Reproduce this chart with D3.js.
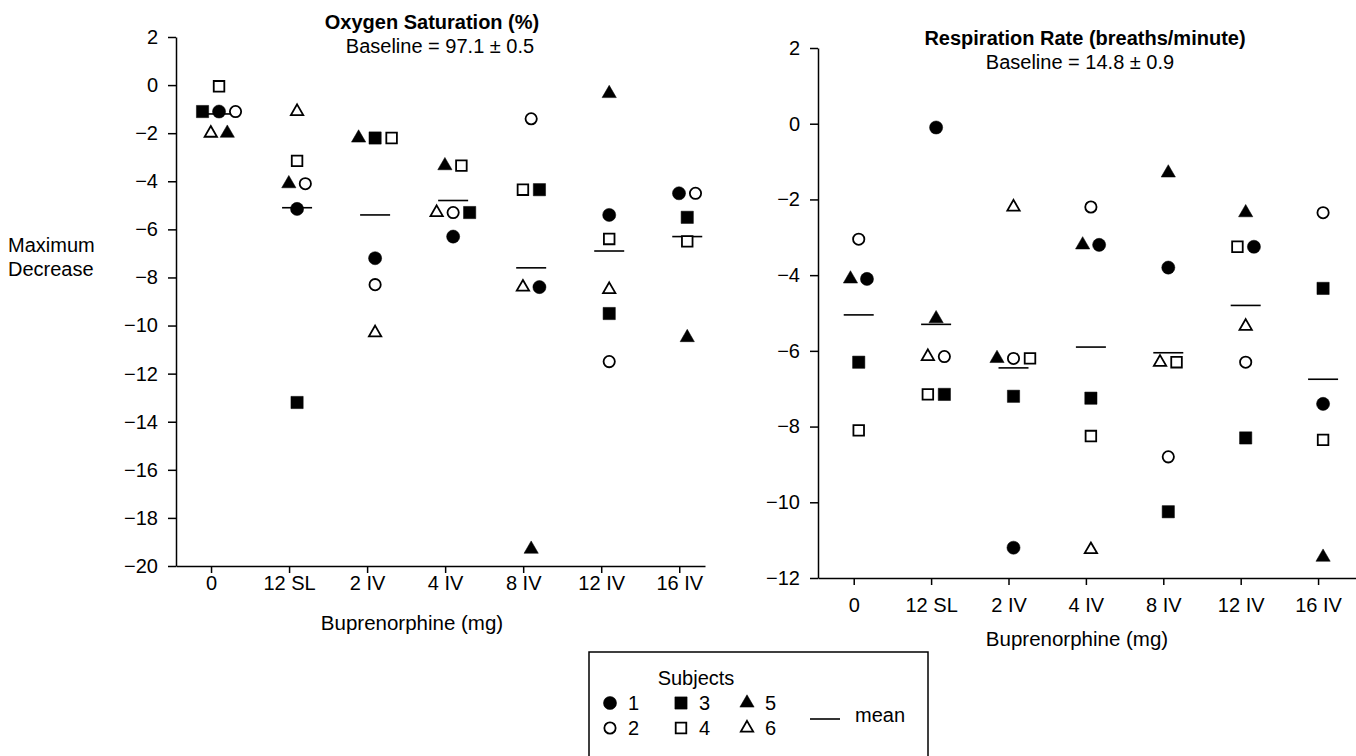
<!DOCTYPE html>
<html>
<head>
<meta charset="utf-8">
<script src="https://cdnjs.cloudflare.com/ajax/libs/d3/7.8.5/d3.min.js"></script>
<style>
  body { margin: 0; background: #fff; }
  svg text { font-family: "Liberation Sans", Arial, Helvetica, sans-serif; fill: #000; }
  .axis path, .axis line { stroke: #000; stroke-width: 1.5; }
  .axis text { font-size: 20px; }
</style>
</head>
<body>
<script>
// Doses on the x axis
var doses = ["0", "12 SL", "2 IV", "4 IV", "8 IV", "12 IV", "16 IV"];
var subjects = [1, 2, 3, 4, 5, 6];

// Oxygen saturation (%), maximum decrease per subject, one value per dose
var oxyS1 = [-1.1, -5.15, -7.2, -6.3, -8.4, -5.4, -4.5];
var oxyS2 = [-1.1, -4.1, -8.3, -5.3, -1.4, -11.5, -4.5];
var oxyS3 = [-1.1, -13.2, -2.2, -5.3, -4.35, -9.5, -5.5];
var oxyS4 = [-0.05, -3.15, -2.2, -3.35, -4.35, -6.4, -6.5];
var oxyS5 = [-2.0, -4.1, -2.2, -3.35, -19.3, -0.35, -10.5];
var oxyS6 = [-2.0, -1.1, -10.3, -5.3, -8.4, -8.5, null];
var oxyMean = [-1.2, -5.1, -5.4, -4.8, -7.6, -6.9, -6.3];
var oxyTicks = [2, 0, -2, -4, -6, -8, -10, -12, -14, -16, -18, -20];

// Respiration rate (breaths/minute), maximum decrease per subject
var respS1 = [-4.1, -0.1, -11.2, -3.2, -3.8, -3.25, -7.4];
var respS2 = [-3.05, -6.15, -6.2, -2.2, -8.8, -6.3, -2.35];
var respS3 = [-6.3, -7.15, -7.2, -7.25, -10.25, -8.3, -4.35];
var respS4 = [-8.1, -7.15, -6.2, -8.25, -6.3, -3.25, -8.35];
var respS5 = [-4.1, -5.15, -6.2, -3.2, -1.3, -2.35, -11.45];
var respS6 = [null, -6.15, -2.2, -11.25, -6.3, -5.35, null];
var respMean = [-5.05, -5.3, -6.45, -5.9, -6.05, -4.8, -6.75];
var respTicks = [2, 0, -2, -4, -6, -8, -10, -12];

// left-to-right order of subjects when markers sit side by side
var oxyOrder = [[3, 1, 2, 6, 5, 4], [5, 2, 1, 3, 4, 6], [5, 3, 4, 1, 2, 6], [5, 4, 6, 2, 3, 1],
                [4, 3, 6, 1, 2, 5], [1, 2, 3, 4, 5, 6], [1, 2, 3, 4, 5, 6]];
var respOrder = [[5, 1, 2, 3, 4, 6], [6, 2, 4, 3, 1, 5], [5, 2, 4, 1, 3, 6], [5, 1, 2, 3, 4, 6],
                 [6, 4, 1, 2, 3, 5], [4, 1, 2, 3, 5, 6], [1, 2, 3, 4, 5, 6]];

var svg = d3.select("body").append("svg")
    .attr("width", 1356)
    .attr("height", 756);

// Marker styles for each subject
var shapeOf = { 1: d3.symbolCircle, 2: d3.symbolCircle, 3: d3.symbolSquare,
                4: d3.symbolSquare, 5: d3.symbolTriangle, 6: d3.symbolTriangle };
var filledOf = { 1: true, 2: false, 3: true, 4: false, 5: true, 6: false };

function symbolPath(s) {
    var shape = shapeOf[s], size;
    if (shape === d3.symbolCircle) size = filledOf[s] ? 135 : 100;
    else if (shape === d3.symbolSquare) size = filledOf[s] ? 150 : 112;
    else size = filledOf[s] ? 88 : 66;
    return d3.symbol().type(shape).size(size)();
}

function drawMarker(g, s, cx, cy) {
    g.append("path")
        .attr("d", symbolPath(s))
        .attr("transform", "translate(" + cx + "," + cy + ")")
        .attr("fill", filledOf[s] ? "#000" : "#fff")
        .attr("stroke", "#000")
        .attr("stroke-width", filledOf[s] ? 0.5 : 1.8);
}

// Put markers with (nearly) the same value next to each other
function dodge(points, y, order) {
    var sorted = points.slice().sort(function(a, b) { return y(a.v) - y(b.v); });
    var clusters = [];
    sorted.forEach(function(p) {
        var last = clusters[clusters.length - 1];
        if (last && Math.abs(y(p.v) - y(last[last.length - 1].v)) < 8) last.push(p);
        else clusters.push([p]);
    });
    clusters.forEach(function(c) {
        c.sort(function(a, b) { return order.indexOf(a.s) - order.indexOf(b.s); });
        c.forEach(function(p, k) { p.dx = (k - (c.length - 1) / 2) * 16.5; });
    });
    return points;
}

function drawPanel(p) {
    var x = d3.scaleLinear().domain(p.xDomain).range(p.xRange);
    var y = d3.scaleLinear().domain(p.yDomain).range(p.yRange);
    var g = svg.append("g");

    g.append("g")
        .attr("class", "axis")
        .attr("transform", "translate(0," + p.yRange[0] + ")")
        .call(d3.axisBottom(x)
            .tickValues(d3.range(doses.length))
            .tickFormat(function(i) { return doses[i]; })
            .tickSize(7).tickSizeOuter(0).tickPadding(p.xPad));

    g.append("g")
        .attr("class", "axis")
        .attr("transform", "translate(" + p.xRange[0] + ",0)")
        .call(d3.axisLeft(y).tickValues(p.yTicks).tickSize(8).tickSizeOuter(0).tickPadding(10));

    g.selectAll(".axis .domain").attr("fill", "none");

    // titles
    g.append("text")
        .attr("x", p.titleX).attr("y", p.titleY)
        .attr("text-anchor", "middle")
        .style("font-size", "20px").style("font-weight", "bold")
        .text(p.title);
    g.append("text")
        .attr("x", p.baseX).attr("y", p.titleY + 24)
        .attr("text-anchor", "middle")
        .style("font-size", "20px")
        .text(p.baseline);
    g.append("text")
        .attr("x", p.labelX).attr("y", p.labelY)
        .attr("text-anchor", "middle")
        .style("font-size", "20.5px")
        .text("Buprenorphine (mg)");

    // mean lines
    g.selectAll(".mean")
        .data(p.means)
        .enter().append("line")
        .attr("class", "mean")
        .attr("x1", function(d, i) { return x(i) + p.shift - 15; })
        .attr("x2", function(d, i) { return x(i) + p.shift + 15; })
        .attr("y1", function(d) { return y(d); })
        .attr("y2", function(d) { return y(d); })
        .attr("stroke", "#000")
        .attr("stroke-width", 1.6);

    // subject markers
    doses.forEach(function(dose, i) {
        var pts = [];
        subjects.forEach(function(s, k) {
            var v = p.series[k][i];
            if (v !== null) pts.push({ s: s, v: v });
        });
        dodge(pts, y, p.order[i]).forEach(function(d) {
            drawMarker(g, d.s, x(i) + p.shift + d.dx, y(d.v));
        });
    });
}

drawPanel({
    series: [oxyS1, oxyS2, oxyS3, oxyS4, oxyS5, oxyS6],
    means: oxyMean, order: oxyOrder, yTicks: oxyTicks,
    xDomain: [-0.449, 6.33], xRange: [176, 705],
    yDomain: [-20, 2], yRange: [566, 37],
    xPad: 3, shift: 8,
    title: "Oxygen Saturation (%)", titleX: 432, titleY: 29,
    baseline: "Baseline = 97.1 \u00b1 0.5", baseX: 440,
    labelX: 412, labelY: 630
});

drawPanel({
    series: [respS1, respS2, respS3, respS4, respS5, respS6],
    means: respMean, order: respOrder, yTicks: respTicks,
    xDomain: [-0.4615, 6.49], xRange: [818, 1356],
    yDomain: [-12, 2], yRange: [578, 48],
    xPad: 13, shift: 5,
    title: "Respiration Rate (breaths/minute)", titleX: 1085, titleY: 45,
    baseline: "Baseline = 14.8 \u00b1 0.9", baseX: 1080,
    labelX: 1077, labelY: 646
});

// y axis label
svg.append("text").attr("x", 8).attr("y", 252).style("font-size", "20px").text("Maximum");
svg.append("text").attr("x", 8).attr("y", 276).style("font-size", "20px").text("Decrease");

// legend
var legend = svg.append("g");
legend.append("rect")
    .attr("x", 589).attr("y", 652).attr("width", 339).attr("height", 120)
    .attr("fill", "none").attr("stroke", "#000").attr("stroke-width", 1.5);
legend.append("text").attr("x", 696).attr("y", 685)
    .attr("text-anchor", "middle").style("font-size", "20px").text("Subjects");
var legendCols = [610, 681, 747];
subjects.forEach(function(s, k) {
    var cx = legendCols[Math.floor(k / 2)], cy = k % 2 === 0 ? 703 : 728;
    drawMarker(legend, s, cx, cy);
    legend.append("text").attr("x", cx + 18).attr("y", cy + 7)
        .style("font-size", "20px").text(s);
});
legend.append("line")
    .attr("x1", 810).attr("x2", 840).attr("y1", 719).attr("y2", 719)
    .attr("stroke", "#000").attr("stroke-width", 1.6);
legend.append("text").attr("x", 855).attr("y", 722).style("font-size", "20px").text("mean");
</script>
</body>
</html>
